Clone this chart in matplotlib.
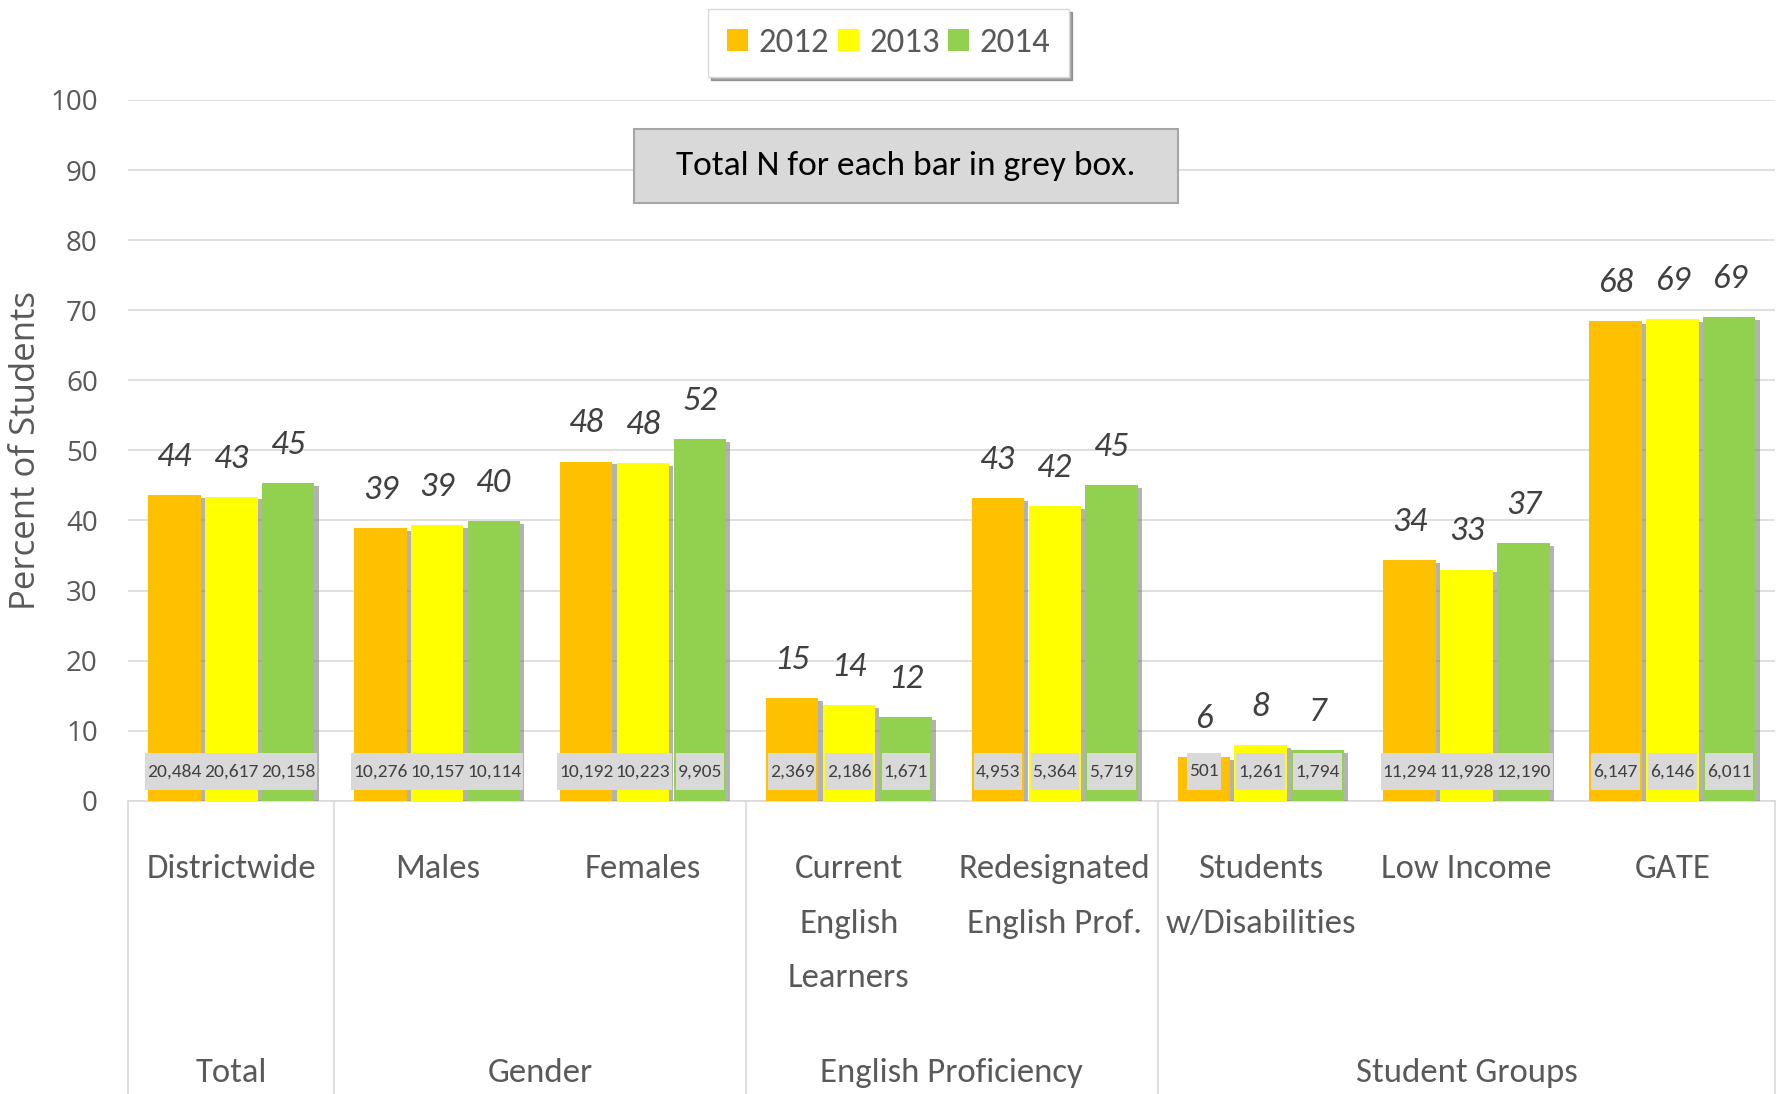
import numpy as np
import matplotlib
matplotlib.use('Agg')
import matplotlib.pyplot as plt
import matplotlib.patheffects as pe
import matplotlib.transforms as mtrans
from matplotlib.patches import Rectangle
from matplotlib import font_manager

# data
categories = ['Districtwide', 'Males', 'Females', 'Current\nEnglish\nLearners',
              'Redesignated\nEnglish Prof.', 'Students\nw/Disabilities', 'Low Income', 'GATE']
groups = ['Total', 'Gender', 'English Proficiency', 'Student Groups']
group_spans = [(0, 0), (1, 2), (3, 4), (5, 7)]
years = ['2012', '2013', '2014']

pct2012 = [43.6, 38.9, 48.4, 14.7, 43.2, 6.2, 34.4, 68.4]
pct2013 = [43.4, 39.3, 48.2, 13.7, 42.0, 7.9, 33.0, 68.7]
pct2014 = [45.3, 39.9, 51.6, 11.9, 45.1, 7.2, 36.8, 69.0]

n2012 = ['20,484', '10,276', '10,192', '2,369', '4,953', '501', '11,294', '6,147']
n2013 = ['20,617', '10,157', '10,223', '2,186', '5,364', '1,261', '11,928', '6,146']
n2014 = ['20,158', '10,114', '9,905', '1,671', '5,719', '1,794', '12,190', '6,011']

colors = ['#FFC000', '#FFFF00', '#92D050']
txt_col = '#595959'

# Calibri look-alike if there is one
available = {f.name for f in font_manager.fontManager.ttflist}
narrow = 'Carlito' if 'Carlito' in available else 'Lato'

fig = plt.figure(figsize=(17.81, 10.94), dpi=100)
ax = fig.add_axes([0.0721, 0.268, 0.9247, 0.6406])

x = np.arange(len(categories))
width = 0.255
step = 0.276
shadow = [pe.SimplePatchShadow(offset=(3, -2), shadow_rgbFace='#7f7f7f', alpha=0.6), pe.Normal()]

ax.set_xlim(-0.5, 7.5)
ax.set_ylim(0, 100)

n_texts = []
for k, (vals, ns) in enumerate([(pct2012, n2012), (pct2013, n2013), (pct2014, n2014)]):
    xs = x + (k - 1) * step
    bars = ax.bar(xs, vals, width, color=colors[k], label=years[k], zorder=3)
    for b in bars:
        b.set_path_effects(shadow)
    for xi, v, n in zip(xs, vals, ns):
        ax.text(xi, v + 3.3, f'{v:.0f}', ha='center', va='bottom', fontsize=25,
                style='italic', color='#404040', family=narrow, zorder=5)
        t = ax.text(xi, 4.2, n, ha='center', va='center', fontsize=14, color='#404040',
                    family=narrow, zorder=5)
        n_texts.append(t)

# grey boxes behind the N labels, sized to the text
renderer = fig.canvas.get_renderer()
inv = ax.transData.inverted()
for t in n_texts:
    bb = t.get_window_extent(renderer)
    (x0, _), (x1, _) = inv.transform([[bb.x0 - 2, 0], [bb.x1 + 2, 0]])
    ax.add_patch(Rectangle((x0, 1.6), x1 - x0, 5.2, fc='#d9d9d9', ec='none', zorder=4))

ax.set_yticks(range(0, 101, 10))
ax.tick_params(axis='y', length=0, labelsize=20, labelcolor=txt_col, pad=22)
ax.tick_params(axis='x', length=0, labelbottom=False)
for lab in ax.get_yticklabels():
    lab.set_family('Open Sans')
ax.grid(axis='y', color='#d9d9d9', lw=1.2, zorder=0)
for s in ['top', 'right', 'left']:
    ax.spines[s].set_visible(False)
ax.spines['bottom'].set_color('#d9d9d9')
ax.spines['bottom'].set_linewidth(1.2)

ax.set_ylabel('Percent of Students', fontsize=25, color=txt_col, family='Open Sans', labelpad=5)

# two-level category axis
trans = mtrans.blended_transform_factory(ax.transData, ax.transAxes)
for bx in [-0.5, 0.5, 2.5, 4.5, 7.5]:
    ax.plot([bx, bx], [0, -0.45], transform=trans, color='#d9d9d9', lw=1.2, clip_on=False)
for xi, c in zip(x, categories):
    ax.text(xi, -0.076, c, transform=trans, ha='center', va='top', fontsize=25,
            color=txt_col, family=narrow, linespacing=2.02)
for g, (a, b) in zip(groups, group_spans):
    ax.text((a + b) / 2, -0.388, g, transform=trans, ha='center', va='center',
            fontsize=25, color=txt_col, family=narrow)

# note box
ax.add_patch(Rectangle((1.955, 85.25), 2.643, 10.55, fc='#d9d9d9', ec='#a6a6a6', lw=1.5, zorder=6))
ax.text(3.277, 90.6, 'Total N for each bar in grey box.', ha='center', va='center',
        fontsize=25.5, color='black', family=narrow, zorder=7)

leg = fig.legend(loc='upper center', bbox_to_anchor=(0.499, 0.992), ncol=3,
                 prop={'family': narrow, 'size': 25}, handlelength=0.6, handleheight=0.6,
                 handletextpad=0.3, columnspacing=0.25, fancybox=False, shadow=True,
                 edgecolor='#d9d9d9', borderpad=0.55, borderaxespad=0)
for t in leg.get_texts():
    t.set_color(txt_col)
for h in leg.legend_handles:
    h.set_path_effects([])

fig.savefig('out.png', dpi=100)
